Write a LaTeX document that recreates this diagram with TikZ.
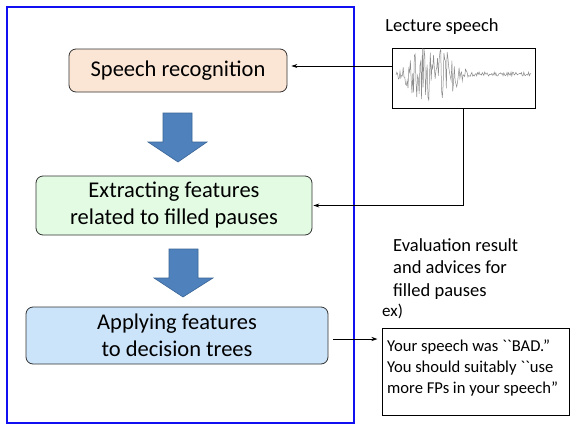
\documentclass[tikz,border=0pt]{standalone}
\usepackage{fontspec}
\setmainfont{Carlito}
\usetikzlibrary{arrows.meta}
\definecolor{frameblue}{HTML}{1010F0}
\definecolor{orfill}{HTML}{FBE5D5}
\definecolor{grfill}{HTML}{E3FBE3}
\definecolor{blfill}{HTML}{CCE4FA}
\definecolor{arrowblue}{HTML}{4F81BD}
\definecolor{arrowedge}{HTML}{3B6596}
\tikzset{
  procbox/.style={draw=black!80, line width=0.8pt, rounded corners=7pt, align=center,
    font=\fontsize{22.5}{27}\selectfont, inner sep=0pt},
  bigarrow/.style={fill=arrowblue, draw=arrowedge, line width=0.6pt},
  conn/.style={draw=black, line width=0.8pt, -{Stealth[length=6pt,width=4pt]}},
  lbl/.style={font=\fontsize{18.5}{22.5}\selectfont, inner sep=0pt, align=left},
}
\begin{document}
\begin{tikzpicture}[x=1pt,y=-1pt,
  declare function={env(\t)=2+24*exp(-((\t-432)/28)^4);}]
\useasboundingbox (0,0) rectangle (571,424);
\fill[white] (0,0) rectangle (571,424);
% frame
\draw[frameblue, line width=1.3pt] (7,7) rectangle (354,423);
% process boxes
\node[procbox, fill=orfill, minimum width=218pt, minimum height=43pt] (sr) at (178,70.5) {Speech recognition};
\node[procbox, fill=grfill, minimum width=276pt, minimum height=59pt] (ext) at (174,205.5) {Extracting features\\related to filled pauses};
\node[procbox, fill=blfill, minimum width=302pt, minimum height=57pt] (app) at (177,335.5) {Applying features\\to decision trees};
% block arrows
\draw[bigarrow] (163,113) -- (192,113) -- (192,142) -- (207,142) -- (178,162) -- (148,142) -- (163,142) -- cycle;
\draw[bigarrow] (169,249) -- (198,249) -- (198,278) -- (213,278) -- (183,297) -- (154,278) -- (169,278) -- cycle;
% waveform
\node[lbl, anchor=center] (lec) at (442,27) {Lecture speech};
\node[draw=black, line width=1pt, minimum width=143pt, minimum height=60pt, inner sep=0pt] (wave) at (463.5,78) {};
\pgfmathsetseed{7}
\draw[black!45, line width=0.5pt] plot[domain=396:531, samples=170, variable=\t] (\t, {74 + env(\t)*rand});
% connectors
\coordinate (w1) at ([yshift=12pt]wave.west);
\draw[conn, shorten >=4pt] (w1) -- (sr.east |- w1);
\draw[conn, shorten >=1pt] (wave.south) -- (wave.south |- ext.east) -- (ext.east);
% output
\node[lbl, anchor=north west] (eval) at (393,238) {Evaluation result\\and advices for\\filled pauses};
\node[lbl, anchor=north west, font=\fontsize{17}{20}\selectfont] (ex) at (382,304) {ex)};
\node[draw=black, line width=1pt, minimum width=187pt, minimum height=87pt, inner sep=0pt] (res) at (475.5,371.5) {};
\node[anchor=west, align=left, inner sep=0pt, font=\fontsize{16.6}{21}\selectfont] (restxt) at (387,368)
  {Your speech was \textasciigrave\textasciigrave BAD.''\\You should suitably \textasciigrave\textasciigrave use\\more FPs in your speech''};
\coordinate (a0) at ([xshift=5pt,yshift=-3.5pt]app.east);
\draw[conn, shorten >=4pt] (a0) -- (res.west |- a0);
\end{tikzpicture}
\end{document}
